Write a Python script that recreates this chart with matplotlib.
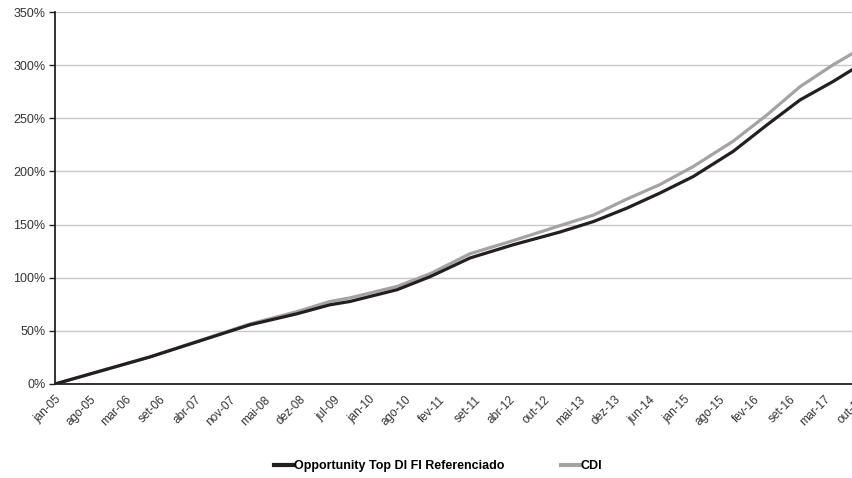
import numpy as np
import matplotlib
matplotlib.use("Agg")
import matplotlib.pyplot as plt

plt.rcParams['font.family'] = ['Liberation Sans', 'DejaVu Sans']

# Data: months since jan-05, cumulative return in %
months = [0, 18.1, 37.1, 46.0, 52.3, 56.1, 65.1, 71.4, 79.0, 87.2, 96.1,
          102.5, 108.8, 115.1, 121.5, 129.1, 135.5, 141.8, 148.1, 151.9]
fund = [0, 25.5, 55.7, 66.0, 74.5, 77.6, 88.7, 101.0, 118.6, 131.0, 143.0,
        152.9, 165.4, 179.6, 195.3, 219.0, 243.8, 267.3, 284.7, 296.3]
cdi = [0, 25.5, 56.5, 68.0, 77.6, 81.0, 91.8, 103.8, 122.6, 134.9, 149.0,
       159.0, 173.9, 187.6, 204.7, 228.6, 253.2, 279.8, 300.4, 311.4]

tick_labels = ["jan-05", "ago-05", "mar-06", "set-06", "abr-07", "nov-07",
               "mai-08", "dez-08", "jul-09", "jan-10", "ago-10", "fev-11",
               "set-11", "abr-12", "out-12", "mai-13", "dez-13", "jun-14",
               "jan-15", "ago-15", "fev-16", "set-16", "mar-17", "out-17"]
yticks = [0, 50, 100, 150, 200, 250, 300, 350]

fig = plt.figure(figsize=(8.53, 4.78), dpi=100)
ax = fig.add_axes([0.0645, 0.1967, 0.9547, 0.778])

ax.plot(months, fund, color="#231f20", lw=2.3, label="Opportunity Top DI FI Referenciado", zorder=3)
ax.plot(months, cdi, color="#a3a3a3", lw=2.3, label="CDI", zorder=2)

# x ticks evenly spaced from jan-05 to out-17
tick_pos = np.linspace(0, 153, len(tick_labels))
ax.set_xticks(tick_pos)
ax.set_xticklabels(tick_labels, rotation=45, ha="right", rotation_mode="anchor",
                   fontsize=8.5, color="#333333")
ax.tick_params(axis="x", length=0, pad=7)

ax.set_yticks(yticks)
ax.set_yticklabels([f"{v}%" for v in yticks], fontsize=9, color="#333333")
ax.tick_params(axis="y", length=4, width=1, color="#222222", pad=3)

ax.set_xlim(0, 155)
ax.set_ylim(0, 350)
ax.grid(axis="y", color="#c8c8c8", lw=1)
ax.set_axisbelow(True)
for s in ["top", "right"]:
    ax.spines[s].set_visible(False)
ax.spines["left"].set_color("#222222")
ax.spines["bottom"].set_color("#222222")
ax.spines["left"].set_linewidth(1.3)
ax.spines["bottom"].set_linewidth(1.3)

leg = fig.legend(loc="lower center", bbox_to_anchor=(0.514, -0.012), ncol=2, frameon=False,
                 prop={"weight": "bold", "size": 9}, handlelength=1.5, handletextpad=0.1,
                 columnspacing=4.5)
for line in leg.get_lines():
    line.set_linewidth(3)

fig.savefig("out.png", dpi=100)
